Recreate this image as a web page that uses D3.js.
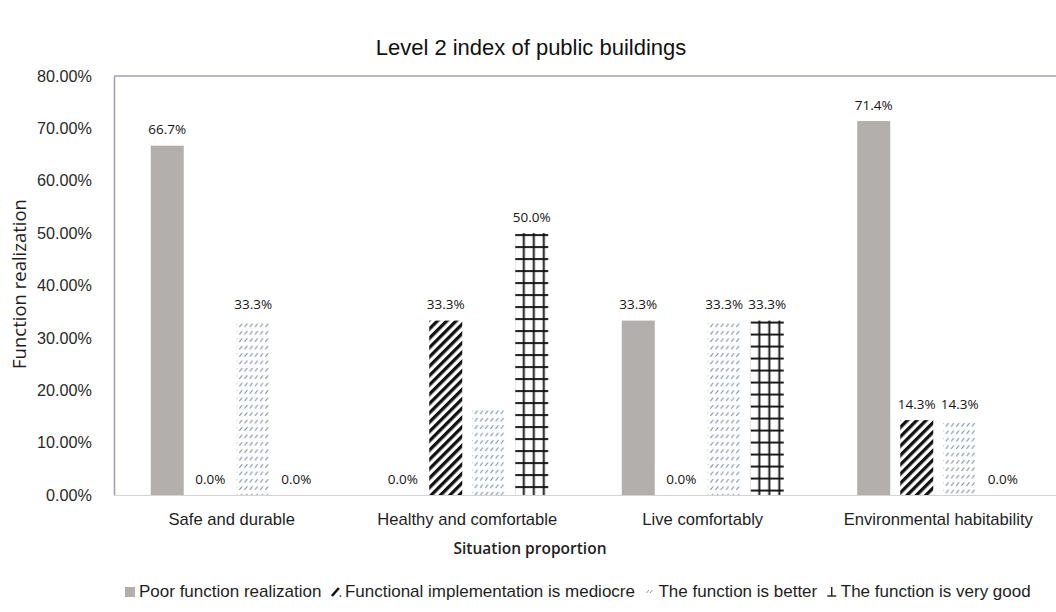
<!DOCTYPE html>
<html>
<head>
<meta charset="utf-8">
<script src="https://cdn.jsdelivr.net/npm/d3@7/dist/d3.min.js"></script>
<style>
  html, body { margin: 0; padding: 0; background: #fff; }
  svg { display: block; }
</style>
</head>
<body>
<svg id="chart" width="1056" height="612"></svg>
<script>
// Share of situations per level-2 index, by function realization grade (%)
const categories = ["Safe and durable", "Healthy and comfortable", "Live comfortably", "Environmental habitability"];
const seriesNames = ["Poor function realization", "Functional implementation is mediocre", "The function is better", "The function is very good"];
const poor = [66.7, 0.0, 33.3, 71.4];
const mediocre = [0.0, 33.3, 0.0, 14.3];
const better = [33.3, 16.7, 33.3, 14.3];
const veryGood = [0.0, 50.0, 33.3, 0.0];
// [category index, series index] of bars printed without a value label
const unlabeled = [[1, 2]];
const yTicks = [0, 10, 20, 30, 40, 50, 60, 70, 80];

const seriesValues = [poor, mediocre, better, veryGood];
const svg = d3.select("#chart");
const defs = svg.append("defs");

const plotLeft = 114, plotRight = 1056, plotTop = 76, plotBottom = 495;

const x0 = d3.scaleBand().domain(categories).range([plotLeft, plotRight]);
const groupWidth = 162;
const x1 = d3.scaleBand().domain(d3.range(seriesNames.length)).range([0, groupWidth]).paddingInner(0.233);
const y = d3.scaleLinear().domain([0, 80]).range([plotBottom, plotTop]);

const bars = [];
categories.forEach((c, ci) => {
  seriesValues.forEach((vals, si) => {
    const bx = x0(c) + x0.bandwidth() / 2 - groupWidth / 2 + x1(si);
    bars.push({ c, ci, si, v: vals[ci], x: bx, w: x1.bandwidth() });
  });
});

// Pattern builders (one per bar so the texture lines up with the bar edges)
function stripePattern(id) {
  const p = defs.append("pattern").attr("id", id)
    .attr("patternUnits", "userSpaceOnUse")
    .attr("width", 6.6).attr("height", 6.6)
    .attr("patternTransform", "rotate(45)");
  p.append("rect").attr("width", 6.6).attr("height", 6.6).attr("fill", "#fff");
  p.append("rect").attr("x", 0).attr("width", 3.3).attr("height", 6.6).attr("fill", "#111");
}
function dashPattern(id, bx, by) {
  const p = defs.append("pattern").attr("id", id)
    .attr("patternUnits", "userSpaceOnUse")
    .attr("x", bx + 1.5).attr("y", by + 2)
    .attr("width", 5.2).attr("height", 7.4);
  p.append("rect").attr("width", 5.2).attr("height", 7.4).attr("fill", "#fcfdfe");
  p.append("line").attr("x1", 1.4).attr("y1", 4.2).attr("x2", 3.6).attr("y2", 1.4)
    .attr("stroke", "#737d96").attr("stroke-width", 1).attr("stroke-linecap", "round");
}
function gridPattern(id, bx, by) {
  const p = defs.append("pattern").attr("id", id)
    .attr("patternUnits", "userSpaceOnUse")
    .attr("x", bx).attr("y", by)
    .attr("width", 10).attr("height", 12);
  p.append("rect").attr("width", 10).attr("height", 12).attr("fill", "#fff");
  p.append("rect").attr("x", 7.6).attr("y", 0).attr("width", 1.9).attr("height", 12).attr("fill", "#111");
  p.append("rect").attr("x", 0).attr("y", 1).attr("width", 10).attr("height", 1.9).attr("fill", "#111");
}

function fillFor(d, i) {
  const by = y(d.v);
  if (d.si === 0) return "#b3afad";
  if (d.si === 1) { const id = "stripe" + i; stripePattern(id); return `url(#${id})`; }
  if (d.si === 2) { const id = "dash" + i; dashPattern(id, d.x, by); return `url(#${id})`; }
  const id = "grid" + i; gridPattern(id, d.x, by); return `url(#${id})`;
}

svg.append("g").selectAll("rect")
  .data(bars.filter(d => d.v > 0))
  .join("rect")
  .attr("x", d => d.x)
  .attr("y", d => y(d.v))
  .attr("width", d => d.w)
  .attr("height", d => y(0) - y(d.v))
  .attr("fill", (d, i) => fillFor(d, i));

// Value labels
const isUnlabeled = d => unlabeled.some(([c, s]) => c === d.ci && s === d.si);
svg.append("g").selectAll("text")
  .data(bars.filter(d => !isUnlabeled(d)))
  .join("text")
  .attr("x", d => d.x + d.w / 2)
  .attr("y", d => y(d.v) - 11.5)
  .attr("text-anchor", "middle")
  .attr("font-family", "'Open Sans', sans-serif")
  .attr("font-size", 13.5)
  .attr("fill", "#151515")
  .text(d => d.v.toFixed(1) + "%");

// Axes
const yAxis = svg.append("g")
  .attr("transform", `translate(${plotLeft},0)`)
  .call(d3.axisLeft(y).tickValues(yTicks).tickFormat(d => d.toFixed(2) + "%").tickSize(0).tickPadding(22));
yAxis.select(".domain").attr("stroke", "#a29ebb").attr("stroke-width", 1.6);
yAxis.selectAll("text")
  .attr("font-family", "'Liberation Sans', Arial, sans-serif")
  .attr("font-size", 16.2)
  .attr("fill", "#2a2a2a");

svg.append("line")
  .attr("x1", plotLeft).attr("x2", plotRight).attr("y1", plotTop).attr("y2", plotTop)
  .attr("stroke", "#a29ebb").attr("stroke-width", 1.6);

const xAxis = svg.append("g")
  .attr("transform", `translate(0,${plotBottom})`)
  .call(d3.axisBottom(x0).tickSize(0).tickPadding(18));
xAxis.select(".domain").attr("stroke", "#d4d4d4").attr("stroke-width", 1.2);
xAxis.selectAll("text")
  .attr("font-family", "'Liberation Sans', Arial, sans-serif")
  .attr("font-size", 16.6)
  .attr("fill", "#1e1e1e");

// Titles
svg.append("text")
  .attr("x", 531).attr("y", 55)
  .attr("text-anchor", "middle")
  .attr("font-family", "'Liberation Sans', Arial, sans-serif")
  .attr("font-size", 22)
  .attr("fill", "#111")
  .text("Level 2 index of public buildings");

svg.append("text")
  .attr("x", 530).attr("y", 554)
  .attr("text-anchor", "middle")
  .attr("font-family", "'Open Sans', sans-serif")
  .attr("font-size", 15.5)
  .attr("font-weight", 600)
  .attr("fill", "#1e1e1e")
  .text("Situation proportion");

svg.append("text")
  .attr("transform", `translate(26,284) rotate(-90)`)
  .attr("text-anchor", "middle")
  .attr("font-family", "'Open Sans', sans-serif")
  .attr("font-size", 18.5)
  .attr("fill", "#1e1e1e")
  .text("Function realization");

// Legend
const legend = svg.append("g").attr("transform", "translate(125,597)");
let lx = 0;
seriesNames.forEach((name, si) => {
  const g = legend.append("g").attr("transform", `translate(${lx},0)`);
  if (si === 0) {
    g.append("rect").attr("x", 0).attr("y", -10).attr("width", 10).attr("height", 10).attr("fill", "#b3afad");
  } else if (si === 1) {
    g.append("line").attr("x1", 1).attr("y1", -1).attr("x2", 8).attr("y2", -9)
      .attr("stroke", "#111").attr("stroke-width", 2.6);
    g.append("circle").attr("cx", 9.5).attr("cy", -1).attr("r", 0.9).attr("fill", "#555");
  } else if (si === 2) {
    g.append("line").attr("x1", 2).attr("y1", -4).attr("x2", 4.5).attr("y2", -7)
      .attr("stroke", "#8a92a2").attr("stroke-width", 1);
    g.append("line").attr("x1", 5.5).attr("y1", -4).attr("x2", 8).attr("y2", -7)
      .attr("stroke", "#8a92a2").attr("stroke-width", 1);
  } else {
    g.append("line").attr("x1", 5).attr("y1", -10).attr("x2", 5).attr("y2", -1)
      .attr("stroke", "#111").attr("stroke-width", 1.3);
    g.append("line").attr("x1", 0.5).attr("y1", -1).attr("x2", 9.5).attr("y2", -1)
      .attr("stroke", "#111").attr("stroke-width", 1.3);
  }
  const t = g.append("text")
    .attr("x", 14).attr("y", 0)
    .attr("font-family", "'Liberation Sans', Arial, sans-serif")
    .attr("font-size", 17)
    .attr("fill", "#1e1e1e")
    .text(name);
  lx += 14 + t.node().getComputedTextLength() + 9.5;
});
</script>
</body>
</html>
